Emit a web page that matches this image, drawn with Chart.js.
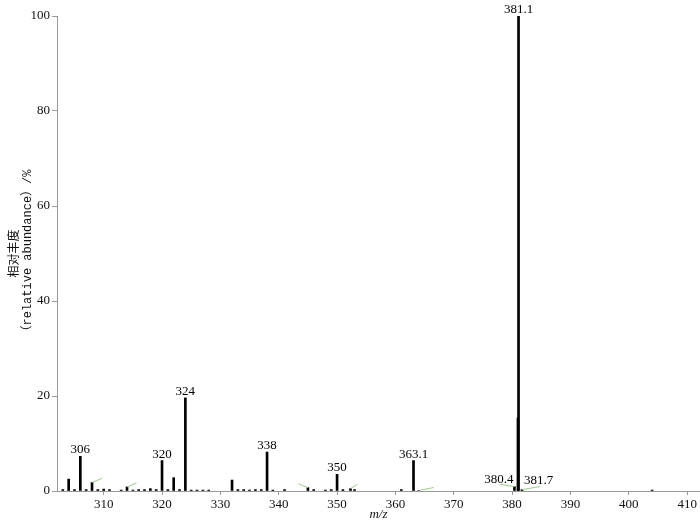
<!DOCTYPE html>
<html>
<head>
<meta charset="utf-8">
<script src="https://cdn.jsdelivr.net/npm/chart.js@4/dist/chart.umd.min.js"></script>
<style>
  html, body { margin: 0; padding: 0; background: #fff; }
  .wrap { width: 700px; height: 525px; position: relative; }
</style>
</head>
<body>
<div class="wrap"><canvas id="ms"></canvas></div>
<script>
// peaks (m/z, relative abundance %)
const mzValues = [303, 304, 305, 306, 307, 308, 309, 310, 311, 313, 314, 315, 316, 317, 318, 319,
  320, 321, 322, 323, 324, 325, 326, 327, 328, 332, 333, 334, 335, 336, 337, 338, 339, 341,
  345, 346, 348, 349, 350, 351, 352.3, 353, 361, 363.1, 364, 380.4, 381.0, 381.1, 381.7, 404];
const abundance = [0.3, 2.5, 0.3, 7.3, 0.3, 1.8, 0.3, 0.4, 0.3, 0.2, 0.85, 0.2, 0.3, 0.3, 0.5, 0.3,
  6.4, 0.3, 2.8, 0.3, 19.6, 0.2, 0.2, 0.2, 0.2, 2.3, 0.3, 0.3, 0.2, 0.3, 0.3, 8.2, 0.2, 0.3,
  0.7, 0.3, 0.2, 0.3, 3.5, 0.3, 0.5, 0.3, 0.3, 6.4, 0.1, 0.9, 15.4, 100, 0.3, 0.2];

const labelMz = [306, 320, 324, 338, 350, 363.1, 381.1, 380.4, 381.7];
const labelText = ['306', '320', '324', '338', '350', '363.1', '381.1', '380.4', '381.7'];
const leaderMz = [308, 314, 345, 352.3, 364, 380.4, 381.7];

const xTicks = [310, 320, 330, 340, 350, 360, 370, 380, 390, 400, 410];
const yTicks = [0, 20, 40, 60, 80, 100];

const serif = "'Liberation Serif', 'DejaVu Serif', serif";

const peakLabels = {
  id: 'peakLabels',
  afterDatasetsDraw(chart, args, opts) {
    const { ctx, scales: { x, y } } = chart;
    const heightOf = mz => abundance[mzValues.indexOf(mz)];
    ctx.save();

    ctx.strokeStyle = opts.leaderColor;
    ctx.lineWidth = 1;
    leaderMz.forEach((mz, i) => {
      const px = x.getPixelForValue(mz);
      const py = y.getPixelForValue(heightOf(mz));
      const [dx, dy] = opts.leaderOffsets[i];
      ctx.beginPath();
      ctx.moveTo(px, py);
      ctx.lineTo(px + dx, py + dy);
      ctx.stroke();
    });

    ctx.fillStyle = '#000';
    ctx.font = opts.font;
    ctx.textBaseline = 'alphabetic';
    labelMz.forEach((mz, i) => {
      const px = x.getPixelForValue(mz);
      const py = y.getPixelForValue(heightOf(mz));
      const side = opts.placement[i] || 'top';
      if (side === 'left') {
        ctx.textAlign = 'right';
        ctx.fillText(labelText[i], px - 1, py - 4);
      } else if (side === 'right') {
        ctx.textAlign = 'left';
        ctx.fillText(labelText[i], px + 2, py - 6);
      } else {
        ctx.textAlign = 'center';
        ctx.fillText(labelText[i], px, py - 3);
      }
    });
    ctx.restore();
  }
};

new Chart(document.getElementById('ms'), {
  type: 'bar',
  data: {
    datasets: [{
      data: mzValues.map((mz, i) => ({ x: mz, y: abundance[i] })),
      backgroundColor: '#000',
      borderWidth: 0,
      barThickness: 2
    }]
  },
  options: {
    responsive: true,
    maintainAspectRatio: false,
    animation: false,
    layout: { padding: { top: 16, right: 0, bottom: 0, left: 0 } },
    plugins: {
      legend: { display: false },
      tooltip: { enabled: false },
      peakLabels: {
        font: "13px " + serif,
        leaderColor: '#9ccc8c',
        placement: [, , , , , , , 'left', 'right'],
        leaderOffsets: [[10, -4], [9.5, -4], [-9.5, -4], [7, -4.5], [15, -3], [-15, -2.5], [18, -3]]
      }
    },
    scales: {
      x: {
        type: 'linear',
        offset: false,
        min: 302,
        max: 412.2,
        afterBuildTicks: s => { s.ticks = xTicks.map(v => ({ value: v })); },
        afterFit: s => { s.height = 34; },
        grid: { offset: false, drawOnChartArea: false, drawTicks: true, tickLength: 4, color: '#999' },
        border: { color: '#999', width: 1 },
        ticks: { color: '#111', padding: 2, maxRotation: 0, font: { family: serif, size: 13 } },
        title: {
          display: true,
          text: 'm/z',
          color: '#111',
          font: { family: serif, size: 13, style: 'italic' },
          padding: { top: 0, bottom: 3 }
        }
      },
      y: {
        min: 0,
        max: 100,
        afterBuildTicks: s => { s.ticks = yTicks.map(v => ({ value: v })); },
        afterFit: s => { s.width = 57; },
        grid: { drawOnChartArea: false, drawTicks: true, tickLength: 5, color: '#999' },
        border: { color: '#999', width: 1 },
        ticks: { color: '#111', padding: 2, font: { family: serif, size: 13 } },
        title: {
          display: true,
          text: ['相对丰度', '（relative abundance）/%'],
          color: '#111',
          font: { family: "'Liberation Mono', 'Noto Sans CJK SC', monospace", size: 12, lineHeight: 1.1 },
          padding: { top: 8, bottom: 0 }
        }
      }
    }
  },
  plugins: [peakLabels]
});
</script>
</body>
</html>
